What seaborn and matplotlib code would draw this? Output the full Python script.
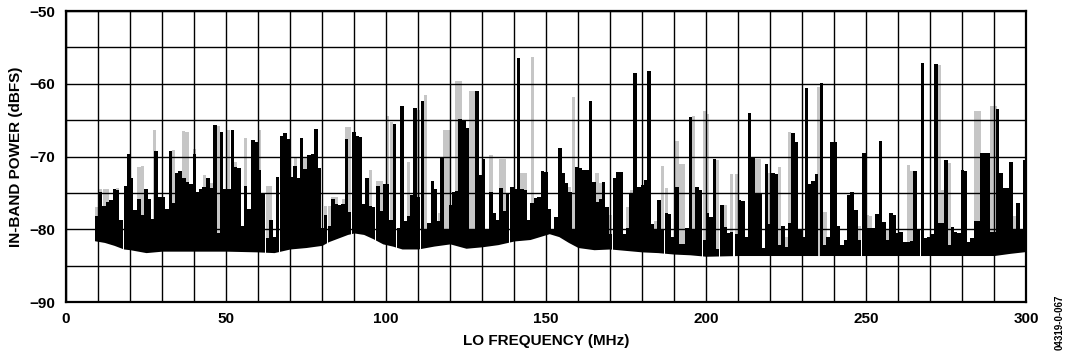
import matplotlib
matplotlib.use("Agg")
import matplotlib.pyplot as plt
import numpy as np
import seaborn as sns

sns.set_theme(style="white")
plt.rcParams["font.family"] = ["Liberation Sans", "DejaVu Sans"]
plt.rcParams.update({"text.color": "black", "axes.labelcolor": "black",
                     "xtick.color": "black", "ytick.color": "black"})

# black trace: bar centre (MHz) and peak level (dBFS)
black_freq = [
    9.7, 10.8, 11.9, 13.0, 14.1, 15.1, 16.1, 17.2, 18.6, 19.6,
    20.5, 21.6, 22.8, 23.9, 24.9, 25.9, 27.1, 28.2, 29.3, 30.4,
    31.6, 32.6, 33.7, 34.7, 35.7, 36.8, 37.8, 39.0, 40.1, 41.1,
    42.2, 43.2, 44.3, 45.5, 46.6, 47.5, 48.6, 49.7, 50.9, 52.0,
    53.0, 54.1, 55.1, 56.1, 57.2, 58.4, 59.4, 60.5, 61.6, 63.0,
    64.0, 64.9, 66.1, 67.3, 68.4, 69.5, 70.5, 71.6, 72.6, 73.6,
    74.7, 76.0, 77.2, 78.1, 79.1, 80.1, 81.1, 82.4, 83.4, 84.5,
    85.5, 86.6, 87.6, 88.6, 89.9, 90.9, 92.0, 93.0, 94.1, 95.1,
    96.1, 97.4, 98.4, 99.5, 100.5, 101.6, 102.6, 103.9, 104.9, 105.9,
    107.0, 108.1, 109.1, 110.1, 111.4, 112.4, 113.4, 114.5, 115.5, 116.6,
    117.5, 118.4, 119.5, 120.3, 121.1, 122.2, 123.2, 124.3, 125.3, 126.4,
    127.4, 128.4, 129.5, 130.5, 131.6, 132.8, 133.9, 134.9, 135.9, 137.0,
    138.0, 139.3, 140.3, 141.4, 142.4, 143.4, 144.7, 145.7, 146.8, 147.8,
    148.9, 149.9, 150.9, 152.2, 153.2, 154.3, 155.3, 156.4, 157.4, 158.5,
    159.7, 160.7, 161.8, 162.8, 163.9, 164.9, 165.9, 167.0, 168.0, 169.1,
    170.1, 171.4, 172.4, 173.4, 174.5, 175.5, 176.6, 177.8, 179.1, 180.1,
    181.1, 182.2, 183.2, 184.3, 185.3, 186.4, 187.6, 188.6, 189.7, 190.9,
    192.0, 193.0, 194.1, 195.1, 196.1, 197.2, 198.2, 199.5, 200.5, 201.6,
    202.6, 203.6, 204.9, 205.9, 207.0, 208.0, 209.5, 210.5, 211.6, 212.6,
    213.6, 214.7, 215.7, 216.8, 217.8, 218.9, 219.9, 220.9, 222.0, 223.0,
    224.1, 225.1, 226.1, 227.2, 228.2, 229.3, 230.3, 231.4, 232.4, 233.4,
    234.5, 236.1, 237.2, 238.2, 239.3, 240.3, 241.4, 242.4, 243.6, 244.7,
    245.7, 246.8, 247.8, 249.3, 250.3, 251.5, 252.4, 253.4, 254.5, 255.6,
    256.8, 257.8, 258.9, 259.9, 261.0, 262.2, 263.2, 264.3, 265.3, 266.4,
    267.6, 268.6, 269.7, 270.7, 271.8, 272.8, 273.9, 274.9, 275.9, 277.0,
    278.0, 279.1, 280.1, 281.1, 282.2, 283.2, 284.3, 285.3, 286.1, 287.2,
    288.2, 289.3, 290.3, 291.1, 292.2, 293.2, 294.3, 295.3, 296.4, 297.4,
    298.4, 299.5,
]
black_top = [
    -78.1, -74.9, -76.8, -76.3, -76.0, -74.5, -74.6, -78.7, -74.1, -69.7,
    -72.9, -77.4, -75.8, -78.0, -74.4, -75.9, -78.6, -69.3, -75.6, -75.6,
    -77.2, -69.3, -76.4, -72.3, -72.0, -72.9, -73.5, -73.8, -69.6, -74.9,
    -74.5, -74.2, -72.9, -74.3, -65.7, -80.5, -66.6, -74.5, -74.4, -66.4,
    -71.4, -71.6, -79.5, -74.1, -77.2, -67.7, -68.0, -71.9, -75.2, -81.2,
    -78.7, -81.0, -72.8, -67.2, -66.8, -67.6, -72.8, -71.3, -72.9, -67.4,
    -71.7, -69.8, -69.7, -66.2, -71.6, -79.8, -78.0, -79.5, -75.8, -76.5,
    -76.7, -76.5, -67.6, -77.6, -66.6, -67.2, -67.3, -76.5, -72.9, -76.8,
    -77.0, -74.1, -77.5, -73.8, -73.8, -78.7, -65.5, -79.8, -63.1, -78.8,
    -78.1, -75.3, -63.3, -75.6, -62.4, -80.1, -79.1, -73.3, -74.4, -78.8,
    -70.1, -79.9, -79.9, -76.7, -74.9, -74.8, -64.9, -65.0, -66.1, -80.1,
    -80.1, -61.0, -72.6, -70.4, -80.0, -74.9, -77.8, -78.7, -74.3, -77.5,
    -75.1, -74.2, -74.4, -56.4, -74.5, -74.6, -78.7, -76.4, -75.7, -75.6,
    -72.0, -72.1, -77.2, -80.0, -78.3, -68.8, -72.3, -73.7, -74.9, -80.1,
    -71.5, -71.6, -71.8, -71.8, -62.3, -73.5, -76.2, -75.9, -73.5, -76.9,
    -80.7, -73.0, -72.1, -72.1, -80.7, -79.8, -75.2, -58.5, -74.2, -73.9,
    -73.2, -58.3, -79.2, -80.1, -76.0, -80.0, -77.8, -77.9, -81.1, -74.2,
    -82.0, -82.0, -79.8, -64.5, -80.1, -74.2, -74.6, -81.5, -77.8, -78.3,
    -70.3, -82.7, -76.6, -79.7, -80.5, -80.4, -80.6, -76.0, -76.1, -81.1,
    -64.0, -70.2, -75.2, -75.2, -82.5, -71.0, -79.2, -72.3, -72.4, -82.2,
    -79.6, -82.4, -79.1, -66.7, -68.0, -80.0, -81.1, -60.6, -73.8, -73.3,
    -72.4, -59.9, -82.2, -81.0, -68.0, -68.0, -79.6, -82.2, -81.4, -75.3,
    -74.9, -77.4, -81.4, -69.5, -79.8, -79.8, -79.8, -77.9, -67.8, -79.0,
    -81.4, -77.8, -78.0, -80.5, -80.4, -81.7, -81.7, -81.6, -72.0, -80.0,
    -57.1, -81.2, -81.0, -80.7, -57.3, -79.1, -79.1, -70.5, -82.2, -79.7,
    -80.4, -80.5, -71.8, -72.0, -81.8, -81.2, -78.8, -78.8, -69.5, -69.5,
    -69.5, -80.4, -80.4, -63.5, -72.2, -74.3, -74.3, -70.7, -80.0, -76.4,
    -80.0, -70.5,
]

# grey trace: only the peaks that stick out above the black one
gray_freq = [
    9.7, 10.8, 11.9, 13.0, 15.1, 16.1, 22.8, 23.9, 27.6, 33.7,
    36.8, 37.8, 40.1, 43.2, 45.5, 47.5, 50.6, 53.0, 56.1, 60.5,
    63.0, 64.0, 71.6, 74.7, 81.1, 82.4, 83.4, 84.5, 86.6, 87.6,
    88.6, 95.1, 97.4, 98.4, 100.5, 101.6, 107.0, 110.1, 112.4, 116.6,
    118.4, 119.5, 122.2, 123.2, 126.4, 127.4, 132.8, 135.9, 137.0, 142.4,
    143.4, 145.7, 157.4, 158.5, 165.9, 167.0, 170.1, 175.5, 176.6, 179.1,
    184.3, 186.4, 187.6, 190.9, 192.0, 193.0, 196.1, 199.5, 200.5, 203.6,
    205.9, 208.0, 209.5, 215.7, 216.8, 219.9, 223.0, 225.1, 226.1, 235.1,
    237.2, 247.8, 250.3, 251.5, 256.8, 263.2, 264.3, 272.8, 273.9, 275.9,
    284.3, 285.3, 289.3, 290.3, 296.4,
]
gray_top = [
    -76.9, -74.5, -74.5, -74.4, -74.4, -74.3, -71.4, -71.3, -66.3, -69.1,
    -66.5, -66.6, -68.9, -72.6, -73.7, -65.8, -66.3, -70.8, -67.4, -66.3,
    -74.1, -74.1, -70.0, -70.0, -76.8, -76.8, -75.5, -75.6, -75.9, -66.0,
    -66.0, -71.9, -73.4, -73.4, -64.4, -65.3, -70.7, -63.6, -61.6, -77.8,
    -66.4, -66.4, -59.6, -59.6, -61.0, -61.0, -69.8, -70.3, -70.3, -72.2,
    -72.2, -56.3, -74.2, -61.8, -72.3, -73.6, -78.0, -76.9, -74.6, -74.6,
    -78.9, -71.3, -74.3, -67.8, -71.0, -71.0, -64.4, -63.8, -64.2, -70.5,
    -76.7, -72.4, -72.4, -70.4, -70.4, -72.2, -71.4, -81.0, -66.6, -60.4,
    -77.6, -79.6, -78.0, -78.2, -80.0, -71.2, -72.0, -57.4, -74.6, -70.9,
    -63.7, -63.7, -63.1, -63.1, -78.2,
]

# lower edge of the noise band
floor_freq = [8, 12, 15, 18, 20, 25, 30, 40, 50, 60, 65, 70, 75, 80, 82,
              85, 88, 90, 93, 96, 99, 102, 105, 110, 115, 120, 125, 130,
              135, 140, 145, 148, 151, 154, 157, 160, 165, 170, 175, 180,
              185, 190, 195, 200, 210, 250, 290, 295, 301]
floor_level = [-81.5, -81.8, -82.2, -82.7, -82.8, -83.2, -83.0, -83.0,
               -83.0, -83.1, -83.2, -82.7, -82.5, -82.2, -81.7, -81.2,
               -80.7, -80.5, -80.7, -81.3, -82.0, -82.3, -82.7, -82.7,
               -82.3, -82.0, -82.6, -82.4, -82.1, -81.6, -81.4, -81.0,
               -80.6, -81.0, -81.8, -82.5, -82.8, -82.7, -82.9, -83.1,
               -83.2, -83.4, -83.5, -83.7, -83.6, -83.6, -83.6, -83.3,
               -83.0]

base = -85.0

fig, ax = plt.subplots(figsize=(10.65, 3.55), dpi=100)
fig.subplots_adjust(left=0.062, right=0.9634, top=0.969, bottom=0.149)

ax.bar(gray_freq, np.array(gray_top) - base, bottom=base, width=1.0,
       color="#c6c6c6", linewidth=0, zorder=2.0)
ax.bar(black_freq, np.array(black_top) - base, bottom=base, width=1.15,
       color="black", linewidth=0, zorder=2.1)
ax.fill_between(floor_freq, -91, floor_level, color="white", linewidth=0,
                zorder=2.2)

ax.set_xlim(0, 300)
ax.set_ylim(-90, -50)
ax.set_xticks(np.arange(0, 301, 50))
ax.set_xticks(np.arange(0, 301, 10), minor=True)
ax.set_yticks(np.arange(-90, -49, 10))
ax.set_yticks(np.arange(-90, -49, 5), minor=True)
ax.grid(True, which="both", color="black", linewidth=1.0)
ax.set_axisbelow(False)
ax.tick_params(which="both", length=0, labelsize=11)
ax.tick_params(axis="y", pad=8)
ax.tick_params(axis="x", pad=7)
for lab in ax.get_xticklabels() + ax.get_yticklabels():
    lab.set_fontweight("bold")

for side in ["left", "right", "top", "bottom"]:
    ax.spines[side].set_color("black")
    ax.spines[side].set_linewidth(1.6)
    ax.spines[side].set_zorder(3)

ax.set_xlabel("LO FREQUENCY (MHz)", fontsize=11, fontweight="bold", labelpad=6)
ax.set_ylabel("IN-BAND POWER (dBFS)", fontsize=11, fontweight="bold", labelpad=4)

fig.text(0.9948, 0.093, "04319-0-067", rotation=90, fontsize=7,
         fontweight="bold", ha="center", va="center")

plt.savefig("out.png", dpi=100)
